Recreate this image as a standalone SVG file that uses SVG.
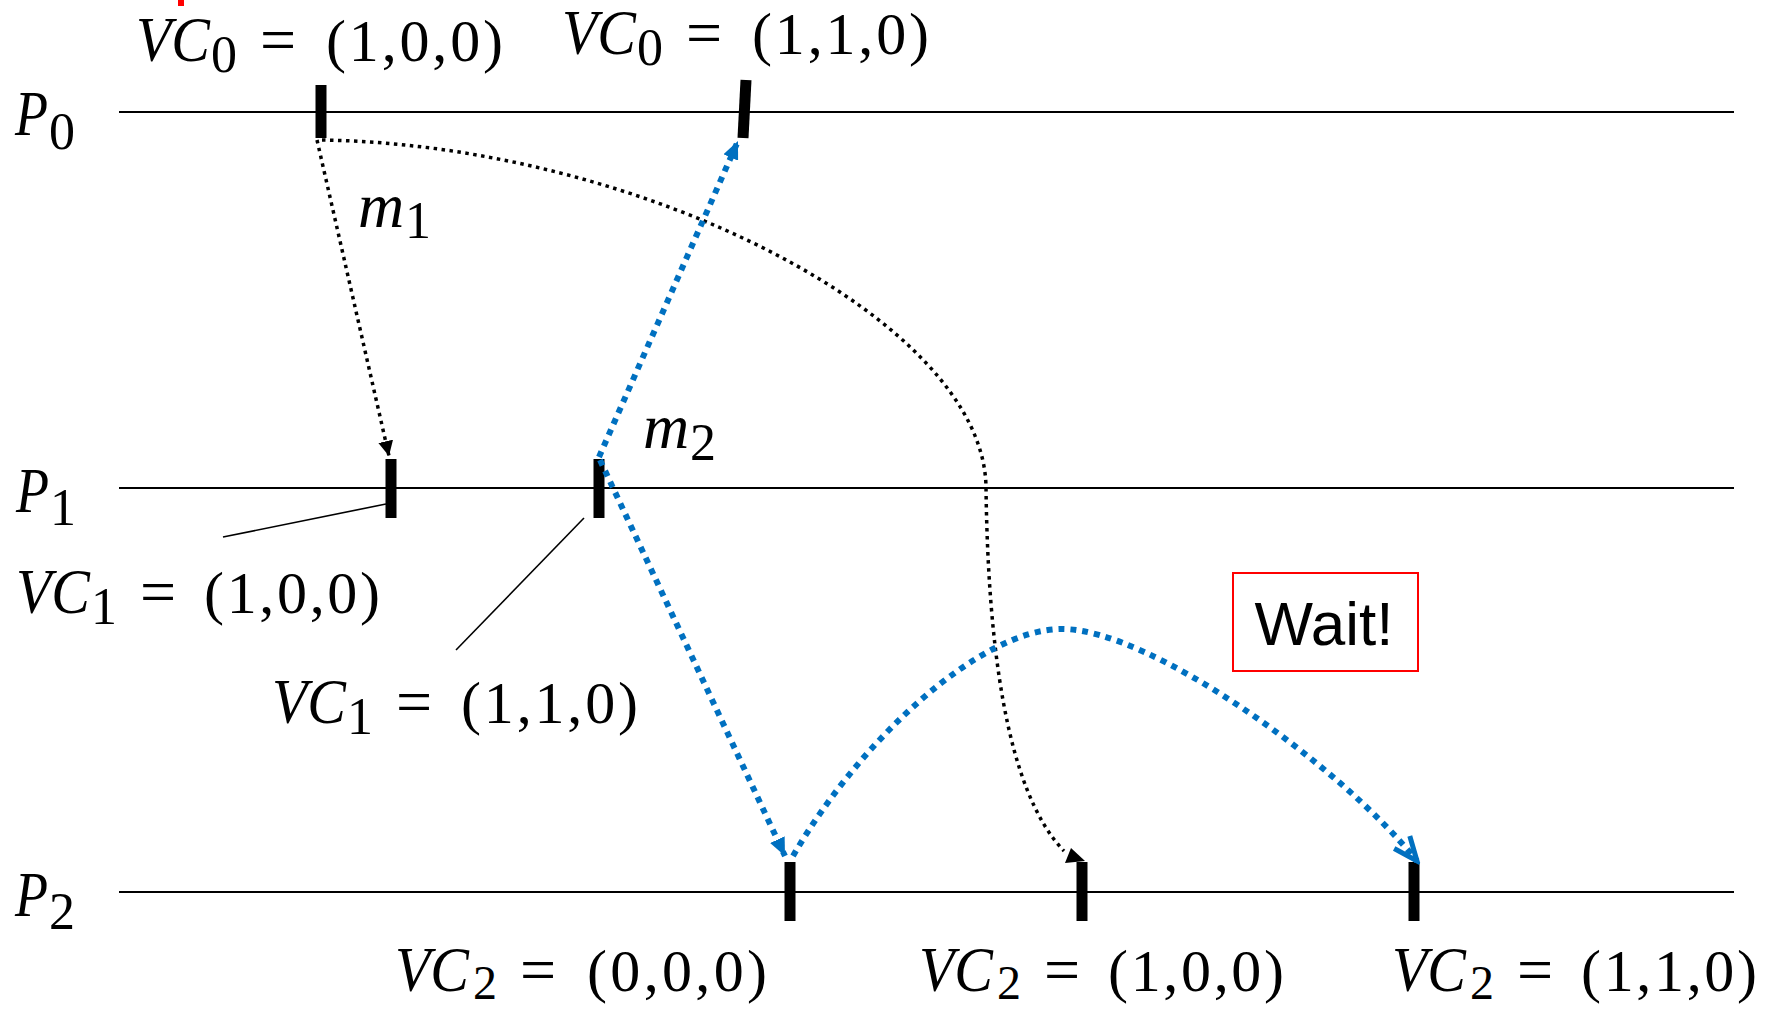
<svg xmlns="http://www.w3.org/2000/svg" width="1777" height="1009" viewBox="0 0 1777 1009">
<style>
.lane{stroke:#000;stroke-width:2}
.tick{stroke:#000;stroke-width:11}
.mi{font-family:"Liberation Serif",serif;font-style:italic;font-size:64px}
.eq{font-family:"Liberation Serif",serif;font-size:64px}
.mn{font-family:"Liberation Serif",serif;font-size:60px}
.sub{font-family:"Liberation Serif",serif;font-size:52px}
.subb{font-family:"Liberation Serif",serif;font-size:48px}
.blk{fill:none;stroke:#000;stroke-width:3.5;stroke-dasharray:3.5 4.5}
.blu{fill:none;stroke:#0070C0;stroke-width:6;stroke-dasharray:6 6}
.lead{stroke:#000;stroke-width:1.6}
.wait{font-family:"Liberation Sans",Arial,sans-serif;font-size:62px}
</style>
<defs>
<marker id="ak" markerUnits="userSpaceOnUse" viewBox="0 0 15 15" refX="15" refY="7.5" markerWidth="15" markerHeight="15" orient="auto"><path d="M0,0 L15,7.5 L0,15 z" fill="#000" stroke="none"/></marker>
<marker id="ab" markerUnits="userSpaceOnUse" viewBox="0 0 18 16" refX="18" refY="8" markerWidth="18" markerHeight="16" orient="auto"><path d="M0,0 L18,8 L0,16 z" fill="#0070C0" stroke="none"/></marker>
<marker id="ao" markerUnits="userSpaceOnUse" viewBox="0 0 32 32" refX="28" refY="16" markerWidth="32" markerHeight="32" orient="auto"><path d="M4,6 L28,16 L4,26" fill="none" stroke="#0070C0" stroke-width="5" stroke-dasharray="none" stroke-linejoin="miter"/></marker>
</defs>
<rect width="1777" height="1009" fill="#fff"/>
<rect x="178" y="0" width="6" height="6" fill="#f00"/>

<g id="P0">
<line class="lane" x1="119" y1="112" x2="1734" y2="112"/>
<text class="mi" x="15" y="135" textLength="33" lengthAdjust="spacingAndGlyphs">P</text>
<text class="sub" x="49" y="149">0</text>
</g>
<g id="P1">
<line class="lane" x1="119" y1="488" x2="1734" y2="488"/>
<text class="mi" x="16" y="512" textLength="33" lengthAdjust="spacingAndGlyphs">P</text>
<text class="sub" x="50" y="525">1</text>
</g>
<g id="P2">
<line class="lane" x1="119" y1="892" x2="1734" y2="892"/>
<text class="mi" x="15" y="916" textLength="33" lengthAdjust="spacingAndGlyphs">P</text>
<text class="sub" x="49" y="929">2</text>
</g>

<g id="e0a"><line class="tick" x1="321" y1="85" x2="321" y2="138"/>
<text class="mi" x="136" y="61" textLength="74" lengthAdjust="spacingAndGlyphs">VC</text>
<text class="sub" x="211" y="72">0</text>
<text class="eq" x="260" y="61">=</text>
<text class="mn" x="326" y="61" textLength="177">(1,0,0)</text></g>
<g id="e0b"><line class="tick" x1="746" y1="80" x2="743" y2="138"/>
<text class="mi" x="562" y="54" textLength="74" lengthAdjust="spacingAndGlyphs">VC</text>
<text class="sub" x="637" y="65">0</text>
<text class="eq" x="686" y="54">=</text>
<text class="mn" x="752" y="54" textLength="177">(1,1,0)</text></g>

<g id="e1a"><line class="tick" x1="391" y1="459" x2="391" y2="518"/>
<line class="lead" x1="386" y1="504" x2="223" y2="537"/>
<text class="mi" x="16" y="613" textLength="74" lengthAdjust="spacingAndGlyphs">VC</text>
<text class="sub" x="91" y="624">1</text>
<text class="eq" x="140" y="613">=</text>
<text class="mn" x="204" y="613" textLength="176">(1,0,0)</text></g>
<g id="e1b"><line class="tick" x1="599" y1="459" x2="599" y2="518"/>
<line class="lead" x1="584" y1="518" x2="456" y2="650"/>
<text class="mi" x="272" y="723" textLength="74" lengthAdjust="spacingAndGlyphs">VC</text>
<text class="sub" x="347" y="734">1</text>
<text class="eq" x="396" y="723">=</text>
<text class="mn" x="461" y="723" textLength="177">(1,1,0)</text></g>

<g id="e2a"><line class="tick" x1="790" y1="862" x2="790" y2="921"/>
<text class="mi" x="395" y="991" textLength="74" lengthAdjust="spacingAndGlyphs">VC</text>
<text class="subb" x="473" y="999">2</text>
<text class="eq" x="520" y="991">=</text>
<text class="mn" x="587" y="991" textLength="180">(0,0,0)</text></g>
<g id="e2b"><line class="tick" x1="1082" y1="862" x2="1082" y2="921"/>
<text class="mi" x="919" y="991" textLength="74" lengthAdjust="spacingAndGlyphs">VC</text>
<text class="subb" x="997" y="999">2</text>
<text class="eq" x="1044" y="991">=</text>
<text class="mn" x="1108" y="991" textLength="176">(1,0,0)</text></g>
<g id="e2c"><line class="tick" x1="1414" y1="862" x2="1414" y2="921"/>
<text class="mi" x="1392" y="991" textLength="74" lengthAdjust="spacingAndGlyphs">VC</text>
<text class="subb" x="1470" y="999">2</text>
<text class="eq" x="1517" y="991">=</text>
<text class="mn" x="1581" y="991" textLength="176">(1,1,0)</text></g>

<g id="wait">
<rect x="1233" y="573" width="185" height="98" fill="none" stroke="#f00" stroke-width="2"/>
<text class="wait" x="1324" y="645" text-anchor="middle">Wait!</text>
</g>

<g id="connectors">
<path class="blk" d="M317,140 L389,456" marker-end="url(#ak)"/>
<path class="blk" d="M322,140 C640,145 985,320 986,488 C988,640 1005,790 1064,851"/>
<polygon points="1065,863 1071,848 1085,861" fill="#000"/>
<path class="blu" d="M599,457 L738,141" marker-end="url(#ab)"/>
<path class="blu" d="M600,460 L785,856" marker-end="url(#ab)"/>
<path class="blu" d="M793,856 C860,740 980,629 1062,629 C1150,629 1340,765 1417,861" marker-end="url(#ao)"/>
<text class="mi" x="358" y="227">m</text><text class="sub" x="405" y="238">1</text>
<text class="mi" x="643" y="448">m</text><text class="sub" x="690" y="460">2</text>
</g>
</svg>
